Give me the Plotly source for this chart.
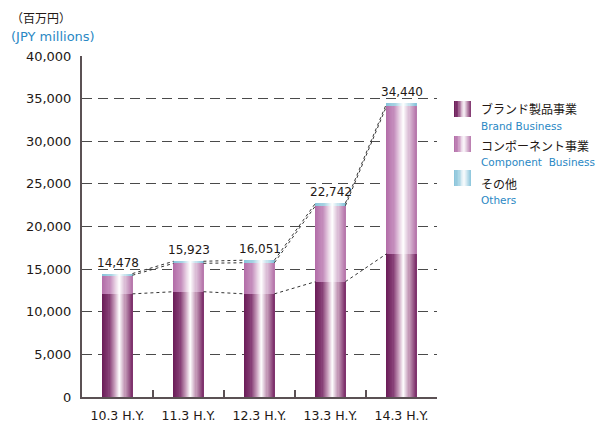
import plotly.graph_objects as go

# ---------------- data ----------------
categories = ["10.3 H.Y.", "11.3 H.Y.", "12.3 H.Y.", "13.3 H.Y.", "14.3 H.Y."]
brand = [12100, 12350, 12100, 13530, 16800]
component = [2178, 3333, 3651, 8912, 17340]
others = [200, 240, 300, 300, 300]
totals = [14478, 15923, 16051, 22742, 34440]
y_ticks = [0, 5000, 10000, 15000, 20000, 25000, 30000, 35000, 40000]
series_names = ["ブランド製品事業", "コンポーネント事業", "その他"]
series_names_en = ["Brand Business", "Component  Business", "Others"]

# ---------------- styles ----------------
W, H = 604, 425
OFF = 8  # default page body margin
ML, MR, MT, MB = 82, 167, 56, 28  # in page pixels
BAR_W = 0.42
N_SLICES = 28
BLUE = "#2a88c4"
TXT = "#231815"

brand_stops = [(0, "#6a1b57"), (0.22, "#833a72"), (0.42, "#c9a0bd"), (0.58, "#ffffff"),
               (0.76, "#c59cb9"), (1, "#7a2c68")]
comp_stops = [(0, "#b26ca7"), (0.25, "#c48cbc"), (0.45, "#ead6e6"), (0.58, "#ffffff"),
              (0.76, "#dcbfd7"), (1, "#b574aa")]
oth_stops = [(0, "#86c3da"), (0.3, "#a9d4e4"), (0.58, "#ffffff"), (0.8, "#bfdfeb"), (1, "#86c3da")]


def hex2rgb(h):
    h = h.lstrip("#")
    return tuple(int(h[i:i + 2], 16) for i in (0, 2, 4))


def grad(stops, t):
    for (t0, c0), (t1, c1) in zip(stops[:-1], stops[1:]):
        if t0 <= t <= t1:
            f = (t - t0) / (t1 - t0) if t1 > t0 else 0
            a, b = hex2rgb(c0), hex2rgb(c1)
            return "rgb(%d,%d,%d)" % tuple(round(a[i] + (b[i] - a[i]) * f) for i in range(3))
    return stops[-1][1]


x = list(range(len(categories)))
fig = go.Figure()

base_brand = [0] * len(x)
base_comp = brand[:]
base_oth = [b + c for b, c in zip(brand, component)]

step = BAR_W / N_SLICES
for vals, bases, stops in [(brand, base_brand, brand_stops),
                           (component, base_comp, comp_stops),
                           (others, base_oth, oth_stops)]:
    for k in range(N_SLICES):
        t = (k + 0.5) / N_SLICES
        fig.add_trace(go.Bar(
            x=x, y=vals, base=bases,
            offset=-BAR_W / 2 + k * step,
            width=step * (1.25 if k < N_SLICES - 1 else 1.0),
            marker=dict(color=grad(stops, t), line=dict(width=0)),
            showlegend=False, hoverinfo="skip"))


# connector lines between bar edges
def connectors(levels):
    xs, ys = [], []
    for i in range(len(levels) - 1):
        xs += [x[i] + BAR_W / 2, x[i + 1] - BAR_W / 2, None]
        ys += [levels[i], levels[i + 1], None]
    return xs, ys


for lv in [totals, base_oth, brand]:
    cx, cy = connectors(lv)
    fig.add_trace(go.Scatter(x=cx, y=cy, mode="lines",
                             line=dict(color="#333333", width=1, dash="dot"),
                             showlegend=False, hoverinfo="skip"))

PW = W - ML - MR
PH = H - MT - MB


def px(xp):
    return (xp - ML) / PW


def py(yp):
    return (H - MB - yp) / PH


shapes = []
annotations = []

# total labels
for xi, v in zip(x, totals):
    annotations.append(dict(x=xi, y=v, xref="x", yref="y", text=f"{v:,}", showarrow=False,
                            yanchor="bottom", xanchor="center", yshift=2,
                            font=dict(family="DejaVu Sans", size=12, color=TXT)))

# legend swatches (gradient)
sw_x0, sw_x1 = 454, 471
sw_rows = [(101, 117), (136, 152), (170, 186)]
for (y0, y1), stops in zip(sw_rows, [brand_stops, comp_stops, oth_stops]):
    n = 12
    for k in range(n):
        xa = sw_x0 + (sw_x1 - sw_x0) * k / n
        xb = min(sw_x0 + (sw_x1 - sw_x0) * (k + 1.3) / n, sw_x1)
        shapes.append(dict(type="rect", xref="paper", yref="paper",
                           x0=px(xa), x1=px(xb), y0=py(y1), y1=py(y0),
                           fillcolor=grad(stops, (k + 0.5) / n), line=dict(width=0), layer="above"))

leg_y = [(108, 126), (145, 162), (183, 200)]
for (yj, ye), nj, ne in zip(leg_y, series_names, series_names_en):
    annotations.append(dict(xref="paper", yref="paper", x=px(479), y=py(yj), xanchor="left",
                            yanchor="middle", showarrow=False, text=nj,
                            font=dict(family="Noto Sans CJK JP", size=12, color=TXT)))
    annotations.append(dict(xref="paper", yref="paper", x=px(479), y=py(ye), xanchor="left",
                            yanchor="middle", showarrow=False, text=ne,
                            font=dict(family="DejaVu Sans", size=10.5, color=BLUE)))

# unit labels
annotations.append(dict(xref="paper", yref="paper", x=px(9), y=py(17), xanchor="left",
                        yanchor="middle", showarrow=False, text="（百万円）",
                        font=dict(family="Noto Sans CJK JP", size=12, color=TXT)))
annotations.append(dict(xref="paper", yref="paper", x=px(9), y=py(36), xanchor="left",
                        yanchor="middle", showarrow=False, text="(JPY millions)",
                        font=dict(family="DejaVu Sans", size=13, color=BLUE)))

fig.update_layout(
    width=W - OFF, height=H - OFF,
    margin=dict(l=ML - OFF, r=MR, t=MT - OFF, b=MB, autoexpand=False),
    paper_bgcolor="white", plot_bgcolor="white",
    barmode="overlay", bargap=0,
    shapes=shapes, annotations=annotations,
    showlegend=False,
    xaxis=dict(range=[-0.5, len(x) - 0.5], tickvals=x, ticktext=categories, automargin=False,
               showgrid=False, zeroline=False, showline=True, linecolor="#5b5154", linewidth=2,
               ticks="", ticklabelstandoff=6,
               tickfont=dict(family="DejaVu Sans", size=12.5, color=TXT)),
    xaxis2=dict(range=[-0.5, len(x) - 0.5], overlaying="x", side="bottom", automargin=False,
                tickvals=[i + 0.5 for i in x], ticks="inside", ticklen=7, tickwidth=1.5,
                tickcolor="#5b5154", showticklabels=False, showgrid=False, zeroline=False,
                showline=False, anchor="y"),
    yaxis=dict(range=[0, 40000], tickvals=y_ticks, ticktext=[f"{v:,}" for v in y_ticks],
               automargin=False,
               showgrid=True, gridcolor="#4a4a4a", gridwidth=1, griddash="10px,6px",
               zeroline=False, showline=True, linecolor="#5b5154", linewidth=2,
               ticks="", ticklabelstandoff=6,
               tickfont=dict(family="DejaVu Sans", size=13, color=TXT)),
)
# dummy trace to activate xaxis2
fig.add_trace(go.Scatter(x=[None], y=[None], xaxis="x2", showlegend=False, hoverinfo="skip"))

fig.write_html("out.html")
